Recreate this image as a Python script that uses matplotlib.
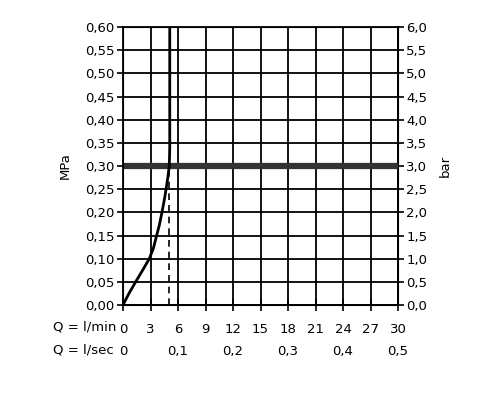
import matplotlib
matplotlib.use('Agg')
import matplotlib.pyplot as plt

plt.rcParams['font.family'] = ['DejaVu Sans']

# flow in l/min vs pressure in MPa
flow = [0, 0.65, 1.38, 2.14, 2.87, 3.31, 3.67, 3.96, 4.25, 4.49, 4.7, 4.89, 5.05, 5.1, 5.1]
press = [0, 0.025, 0.05, 0.075, 0.10, 0.122, 0.15, 0.172, 0.20, 0.225, 0.25, 0.275, 0.30, 0.34, 0.60]
flowLimit = 5.05
workPress = 0.30

xTicks = list(range(0, 31, 3))
yTicks = [i * 0.05 for i in range(13)]
secTicks = [0, 0.1, 0.2, 0.3, 0.4, 0.5]

def comma(v, n):
    return f'{v:.{n}f}'.replace('.', ',')

fig = plt.figure(figsize=(5, 4), dpi=100)
ax = fig.add_axes([0.246, 0.2375, 0.55, 0.695])

ax.set_xlim(0, 30)
ax.set_ylim(0, 0.6)
ax.set_xticks(xTicks)
ax.set_xticklabels([str(t) for t in xTicks])
ax.set_yticks(yTicks)
ax.set_yticklabels([comma(t, 2) for t in yTicks])
ax.grid(True, color='black', linewidth=1.3)
for s in ax.spines.values():
    s.set_linewidth(1.3)
ax.tick_params(axis='y', direction='out', length=4, width=1.2, labelsize=9.5, pad=2)
ax.tick_params(axis='x', direction='inout', length=8, width=1.2, labelsize=9.5, pad=9)
ax.set_ylabel('MPa', fontsize=9.5, labelpad=10)

ax.axhline(workPress, color='#333333', linewidth=4.5, zorder=3)
ax.plot([flowLimit, flowLimit], [0, workPress], color='black', linewidth=1.2, linestyle=(0, (4, 3)), zorder=4)
ax.plot(flow, press, color='black', linewidth=2, zorder=5, solid_joinstyle='round')

ax2 = ax.twinx()
ax2.set_ylim(0, 6)
barTicks = [t * 10 for t in yTicks]
ax2.set_yticks(barTicks)
ax2.set_yticklabels([comma(t, 1) for t in barTicks])
ax2.tick_params(axis='y', direction='out', length=4, width=1.2, labelsize=9.5, pad=2)
ax2.set_ylabel('bar', fontsize=9.5, rotation=90, labelpad=8)

sec = ax.secondary_xaxis('bottom', functions=(lambda q: q / 60, lambda s: s * 60))
sec.set_xticks(secTicks)
sec.set_xticklabels(['0'] + [comma(t, 1) for t in secTicks[1:]])
sec.tick_params(length=0, labelsize=9.5, pad=29)
sec.spines['bottom'].set_visible(False)

fig.text(0.106, 1 - 327 / 400, 'Q = l/min', fontsize=9.5, va='center', ha='left')
fig.text(0.106, 1 - 350 / 400, 'Q = l/sec', fontsize=9.5, va='center', ha='left')

fig.savefig('out.png', dpi=100)
